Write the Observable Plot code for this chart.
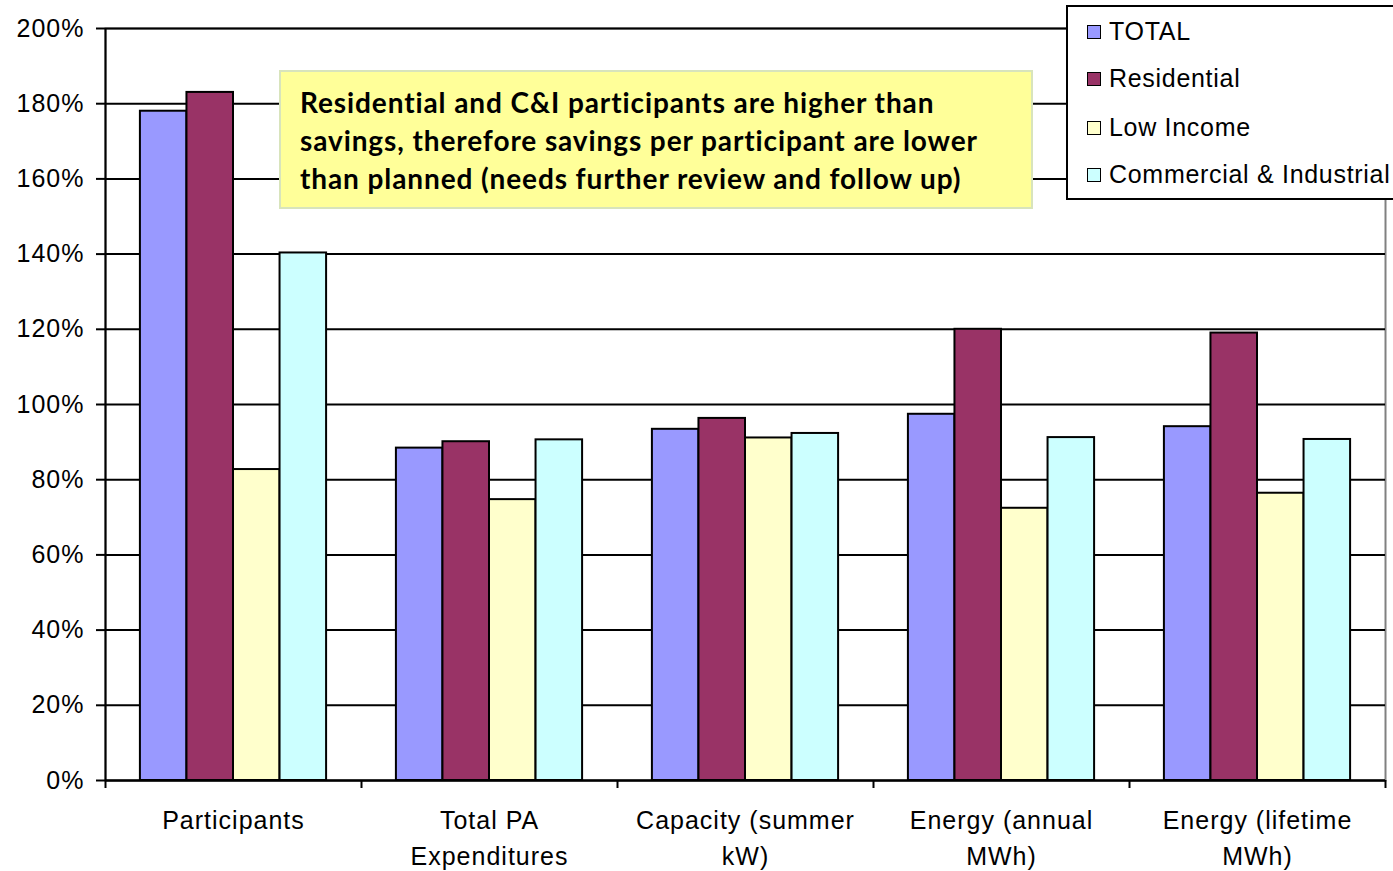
<!DOCTYPE html>
<html>
<head>
<meta charset="utf-8">
<script src="https://cdn.jsdelivr.net/npm/d3@7"></script>
<script src="https://cdn.jsdelivr.net/npm/@observablehq/plot@0.6"></script>
<style>
  html, body { margin: 0; padding: 0; background: #fff; }
  #wrap { position: relative; width: 1393px; height: 871px; overflow: hidden; }
  #wrap svg text { letter-spacing: 1px; }
  .legend { position: absolute; left: 1066px; top: 5px; width: 340px; height: 195px; border: 2px solid #000; background: #fff; box-sizing: border-box;
    font-family: "Liberation Sans", Arial, sans-serif; font-size: 25px; letter-spacing: 0.7px; color: #000; }
  .legend .item { position: absolute; left: 19px; height: 30px; line-height: 30px; white-space: nowrap; }
  .legend .sw { display: inline-block; width: 12px; height: 12px; border: 1.5px solid #000; margin-right: 8px; vertical-align: 1px; }
  .note { position: absolute; left: 279px; top: 70px; width: 754px; height: 139px; box-sizing: border-box; background: #FFFF99; border: 2px solid #D8E4BC;
    font-family: Lato, "Open Sans", sans-serif; font-weight: bold; font-size: 28px; letter-spacing: 0.9px; line-height: 38px; padding: 11px 0 0 19px; color: #000; white-space: nowrap; }
</style>
</head>
<body>
<div id="wrap"></div>
<script>
const categories = ["Participants", "Total PA\nExpenditures", "Capacity (summer\nkW)", "Energy (annual\nMWh)", "Energy (lifetime\nMWh)"];
const series = ["TOTAL", "Residential", "Low Income", "Commercial & Industrial"];
const total = [178, 88.4, 93.4, 97.4, 94.1];
const residential = [183, 90.1, 96.3, 120, 119];
const lowIncome = [82.7, 74.7, 91.1, 72.4, 76.4];
const commercial = [140.3, 90.6, 92.3, 91.2, 90.7];
const colors = ["#9999FF", "#993366", "#FFFFCC", "#CCFFFF"];
const yTicks = [0, 20, 40, 60, 80, 100, 120, 140, 160, 180, 200];
const noteLines = [
  "Residential and C&I participants are higher than",
  "savings, therefore savings per participant are lower",
  "than planned (needs further review and follow up)"
];

const seriesValues = [total, residential, lowIncome, commercial];
const gap = 1.5; // Excel gap width (150%)
const bw = 1 / (series.length + gap);
const rows = [];
categories.forEach((c, i) => {
  series.forEach((s, k) => {
    const x1 = i + bw * gap / 2 + k * bw;
    rows.push({category: c, series: s, value: seriesValues[k][i], x1, x2: x1 + bw});
  });
});

const chart = Plot.plot({
  width: 1393,
  height: 871,
  marginLeft: 105,
  marginRight: 8,
  marginTop: 28,
  marginBottom: 91,
  style: {fontFamily: "'Liberation Sans', Arial, sans-serif", fontSize: "25px", color: "#000", background: "#fff"},
  x: {type: "linear", domain: [0, categories.length]},
  y: {domain: [0, 200]},
  color: {domain: series, range: colors},
  marks: [
    Plot.frame({stroke: "#808080", strokeWidth: 2}),
    Plot.gridY(yTicks, {stroke: "#000", strokeOpacity: 1, strokeWidth: 2}),
    Plot.rectY(rows, {x1: "x1", x2: "x2", y: "value", fill: "series", stroke: "#000", strokeWidth: 2}),
    Plot.ruleX([0], {stroke: "#000", strokeWidth: 2}),
    Plot.ruleY([0], {stroke: "#000", strokeWidth: 2}),
    Plot.axisY({ticks: yTicks, tickFormat: d => d + "%", tickSize: 9, tickPadding: 12, strokeWidth: 2, fontSize: 25, label: null}),
    Plot.axisX({ticks: d3.range(categories.length + 1), tickFormat: () => "", tickSize: 8, strokeWidth: 2, label: null}),
    Plot.axisX({ticks: categories.map((c, i) => i + 0.5), tickFormat: d => categories[Math.floor(d)], tickSize: 0, tickPadding: 23, lineHeight: 1.44, fontSize: 25, label: null})
  ]
});

const wrap = document.getElementById("wrap");
wrap.appendChild(chart);

const note = document.createElement("div");
note.className = "note";
note.innerHTML = noteLines.map(l => `<div>${l.replace(/&/g, "&amp;")}</div>`).join("");
wrap.appendChild(note);

const legend = document.createElement("div");
legend.className = "legend";
const rowTops = [9, 56, 105, 152];
series.forEach((s, k) => {
  const it = document.createElement("div");
  it.className = "item";
  it.style.top = rowTops[k] + "px";
  it.innerHTML = `<span class="sw" style="background:${colors[k]}"></span>${s.replace(/&/g, "&amp;")}`;
  legend.appendChild(it);
});
wrap.appendChild(legend);
</script>
</body>
</html>
